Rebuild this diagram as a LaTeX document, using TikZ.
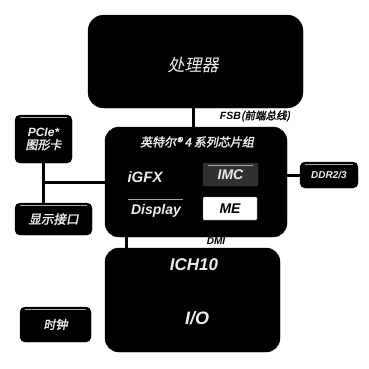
\documentclass[tikz,border=0pt]{standalone}
\usepackage{fontspec}
\setsansfont{Liberation Sans}
\newfontfamily\cjk{Noto Sans CJK SC}[FakeSlant=0.2, AutoFakeBold=2]
\usepackage{tikz}
\usetikzlibrary{positioning, calc}
\definecolor{chipgray}{RGB}{48,48,48}
\definecolor{txtwhite}{RGB}{236,236,236}
\newcommand{\lat}[1]{{\sffamily\bfseries\itshape #1}}

\begin{document}
\begin{tikzpicture}[x=1pt, y=-1pt,
    blk/.style={draw=black, fill=black, rounded corners=14pt,
                text=txtwhite, inner sep=2pt},
    smallblk/.style={draw=black, fill=black, rounded corners=5pt,
                text=txtwhite, align=center, inner sep=2pt,
                path picture={\draw[gray!70, line width=0.8pt]
                  ([xshift=5pt, yshift=-2.5pt]path picture bounding box.north west) --
                  ([xshift=-5pt, yshift=-2.5pt]path picture bounding box.north east);}},
    lnk/.style={line width=3pt, black},
    lbl/.style={font=\sffamily\bfseries\itshape, inner sep=1pt}
  ]
  \useasboundingbox (0,0) rectangle (369,368);

  \draw[lnk] (193,100) -- (193,135);

  \node[blk, minimum width=215pt, minimum height=93pt, rounded corners=16pt] (cpu) at (195.5,61.5) {};
  \node[text=txtwhite, font=\cjk\fontsize{17}{20}\selectfont] (cpulbl) at (193,65) {处理器};

  \node[blk, minimum width=182pt, minimum height=110pt] (gmch) at (196,182) {};
  \node[text=txtwhite, font=\cjk\bfseries\fontsize{12}{14}\selectfont] (gmchlbl) at (197,142) {英特尔® 4 系列芯片组};
  \node[lbl, text=txtwhite, font=\sffamily\bfseries\itshape\fontsize{15}{17}\selectfont] (igfx) at (145,177) {iGFX};
  \node[smallblk, fill=chipgray, draw=chipgray, rounded corners=1pt,
        minimum width=55pt, minimum height=23pt,
        font=\sffamily\bfseries\itshape\fontsize{14}{16}\selectfont] (imc) at (230.5,174.5) {IMC};
  \node[lbl, text=txtwhite, font=\sffamily\bfseries\itshape\fontsize{14}{16}\selectfont] (dsp) at (156,211) {Display};
  \draw[gray!70, line width=0.9pt] (128,199) -- (183,199);
  \node[draw=gray, fill=white, rounded corners=1pt, minimum width=54pt, minimum height=23pt,
        font=\sffamily\bfseries\itshape\fontsize{14}{16}\selectfont] (me) at (230,208.5) {ME};

  \node[blk, minimum width=175pt, minimum height=104pt] (ich) at (192.5,300) {};
  \node[lbl, text=txtwhite, font=\sffamily\bfseries\itshape\fontsize{17}{19}\selectfont] (ichlbl) at (194,265) {ICH10};
  \node[lbl, text=txtwhite, font=\sffamily\bfseries\itshape\fontsize{18}{20}\selectfont] (io) at (197,318) {I/O};

  \node[smallblk, minimum width=57pt, minimum height=48pt,
        font=\fontsize{12}{14}\selectfont] (pcie) at (43.5,139) {\lat{PCIe*}\\[-1pt]{\cjk\bfseries 图形卡}};
  \node[smallblk, minimum width=77pt, minimum height=32pt,
        font=\cjk\bfseries\fontsize{12.5}{14}\selectfont] (disp) at (53.5,219) {显示接口};
  \node[smallblk, minimum width=58pt, minimum height=26pt,
        font=\sffamily\bfseries\itshape\fontsize{10}{12}\selectfont] (ddr) at (329,175) {DDR2/3};
  \node[smallblk, minimum width=71pt, minimum height=35pt,
        font=\cjk\bfseries\fontsize{12}{14}\selectfont] (clk) at (55.5,324.5) {时钟};

  \draw[lnk] (gmch.west) -- (gmch.west -| pcie.south);
  \draw[lnk] (pcie.south) -- (pcie.south |- disp.north);
  \draw[lnk] (ddr.west) -- (ddr.west -| gmch.east);
  \coordinate (dmi) at ($(gmch.south west)+(22,0)$);
  \draw[lnk] (dmi) -- (dmi |- ich.north);

  \node[lbl, font=\fontsize{10.5}{12}\selectfont] (fsb) at (255,116) {\lat{FSB}{\cjk\bfseries (前端总线)}};
  \node[lbl, font=\sffamily\bfseries\itshape\fontsize{10}{12}\selectfont] (dmilbl) at (216,241) {DMI};
\end{tikzpicture}
\end{document}
